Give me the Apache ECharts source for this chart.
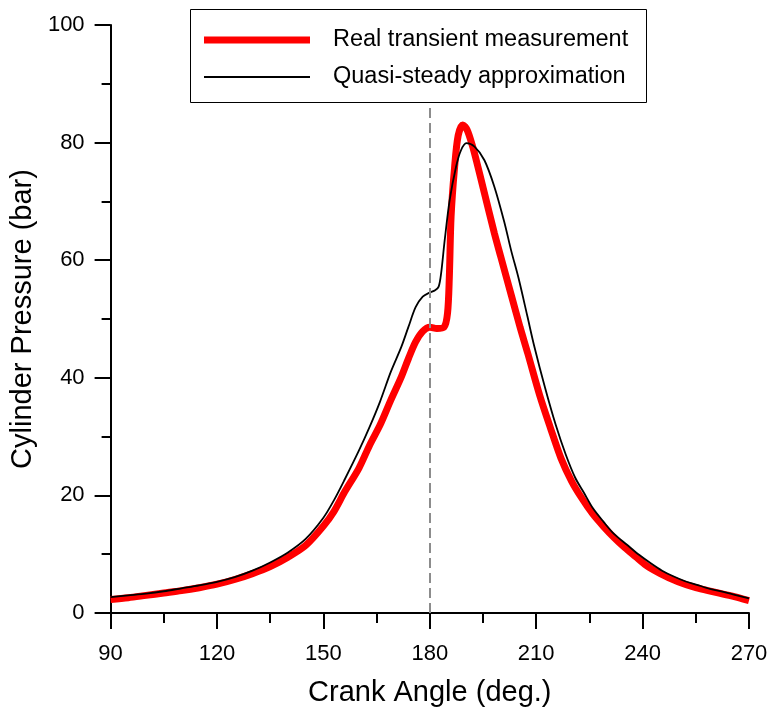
<!DOCTYPE html>
<html>
<head>
<meta charset="utf-8">
<script src="https://cdn.jsdelivr.net/npm/echarts@6/dist/echarts.min.js"></script>
<style>
  html, body { margin: 0; padding: 0; background: #fff; }
  #main { width: 773px; height: 715px; }
</style>
</head>
<body>
<div id="main"></div>
<script>
// measured (red) curve
var realAngle = [90, 95, 100, 105, 110, 115, 120, 125, 130, 135, 140, 145, 150, 153, 156, 160, 163, 166, 169, 172, 174, 176, 178, 180, 182, 184, 185, 185.5, 186, 187, 188, 189.3, 190.5, 192, 193.1, 195.4, 198.2, 200, 203, 205.5, 207.6, 211, 214, 217, 220, 223, 226, 229, 232, 235, 238, 241, 245, 250, 255, 260, 265, 270];
var realPressure = [2.3, 2.6, 3.0, 3.4, 3.8, 4.3, 4.9, 5.7, 6.7, 7.9, 9.5, 11.5, 14.8, 17.3, 20.6, 24.6, 28.5, 32.0, 36.2, 40.2, 43.3, 46.1, 47.9, 48.6, 48.4, 48.6, 51.0, 57.0, 67.4, 75.9, 81.2, 83.0, 82.2, 79.5, 77.0, 71.4, 64.6, 60.6, 54.0, 48.5, 44.2, 37.0, 31.5, 26.3, 22.4, 19.4, 16.8, 14.7, 12.8, 11.1, 9.6, 8.1, 6.7, 5.3, 4.3, 3.6, 2.9, 2.1];

// quasi-steady (black) curve
var quasiAngle = [90, 95, 100, 105, 110, 115, 120, 125, 130, 135, 140, 145, 150, 153, 156, 160, 163, 166, 169, 172, 174, 176, 178, 180, 181.5, 182.5, 183.2, 184.2, 185.6, 187.4, 188.8, 190.3, 192.6, 195.4, 198.2, 201, 203, 205, 207.5, 209.4, 212.5, 215.5, 218.3, 221, 223.5, 226, 229, 232, 235.6, 239, 242.2, 245.5, 248.8, 252, 255.3, 259, 262.8, 266, 270];
var quasiPressure = [2.7, 3.0, 3.3, 3.7, 4.2, 4.7, 5.3, 6.1, 7.2, 8.6, 10.3, 12.6, 16.2, 19.2, 22.7, 27.6, 31.6, 36.0, 41.0, 45.3, 48.7, 52.0, 53.8, 54.5, 54.9, 55.5, 57.8, 63.4, 70.2, 75.9, 78.7, 79.9, 79.3, 77.0, 72.5, 66.5, 61.5, 57.0, 50.5, 45.5, 38.3, 32.0, 27.0, 23.0, 20.4, 17.8, 15.5, 13.4, 11.6, 9.9, 8.5, 7.2, 6.2, 5.4, 4.8, 4.1, 3.6, 3.1, 2.5];

var xTicks = [90, 120, 150, 180, 210, 240, 270];
var yTicks = [0, 20, 40, 60, 80, 100];
var markAngle = 180;
var seriesNames = ['Real transient measurement', 'Quasi-steady approximation'];

function zip(a, b) {
    var out = [];
    for (var i = 0; i < a.length; i++) out.push([a[i], b[i]]);
    return out;
}

var myChart = echarts.init(document.getElementById('main'));
var font = 'Liberation Sans, Arial, sans-serif';

// one legend per entry so each sample keeps its own thickness
function legendRow(name, top, thick) {
    return {
        show: true,
        orient: 'vertical',
        left: 204,
        top: top,
        padding: 0,
        z: 100,
        icon: 'rect',
        itemWidth: 106,
        itemHeight: thick,
        textStyle: { fontFamily: font, fontSize: 23.5, color: '#000', padding: [0, 0, 0, 18] },
        data: [name]
    };
}

var option = {
    animation: false,
    backgroundColor: '#fff',
    grid: { left: 108, right: 24, top: 25, bottom: 102 },
    graphic: [{
        type: 'rect',
        z: 50,
        shape: { x: 190.5, y: 9.5, width: 456, height: 93 },
        style: { fill: '#fff', stroke: '#000', lineWidth: 1 }
    }],
    legend: [
        legendRow(seriesNames[0], 28, 7),
        legendRow(seriesNames[1], 65, 2)
    ],
    xAxis: {
        type: 'value',
        min: xTicks[0],
        max: xTicks[xTicks.length - 1],
        interval: 30,
        name: 'Crank Angle (deg.)',
        nameLocation: 'middle',
        nameGap: 65,
        nameTextStyle: { fontFamily: font, fontSize: 29, color: '#000' },
        axisLine: { onZero: false, lineStyle: { color: '#000', width: 2 } },
        axisTick: { length: 16, lineStyle: { color: '#000', width: 2 } },
        minorTick: { show: true, splitNumber: 2, length: 10, lineStyle: { color: '#000', width: 2 } },
        axisLabel: { margin: 30, fontFamily: font, fontSize: 22, color: '#000' },
        splitLine: { show: false }
    },
    yAxis: {
        type: 'value',
        min: yTicks[0],
        max: yTicks[yTicks.length - 1],
        interval: 20,
        name: 'Cylinder Pressure (bar)',
        nameLocation: 'middle',
        nameGap: 66,
        nameTextStyle: { fontFamily: font, fontSize: 29, color: '#000' },
        axisLine: { show: true, lineStyle: { color: '#000', width: 2 } },
        axisTick: { show: true, length: 16, lineStyle: { color: '#000', width: 2 } },
        minorTick: { show: true, splitNumber: 2, length: 9, lineStyle: { color: '#000', width: 2 } },
        axisLabel: { margin: 26, fontFamily: font, fontSize: 22, color: '#000' },
        splitLine: { show: false }
    },
    series: [
        {
            name: seriesNames[0],
            type: 'line',
            showSymbol: false,
            symbol: 'none',
            smooth: 0.3,
            lineStyle: { color: '#ff0000', width: 7 },
            itemStyle: { color: '#ff0000' },
            data: zip(realAngle, realPressure),
            markLine: {
                silent: true,
                symbol: 'none',
                label: { show: false },
                lineStyle: { color: '#8c8c8c', width: 2, type: [10, 5] },
                data: [{ xAxis: markAngle }]
            }
        },
        {
            name: seriesNames[1],
            type: 'line',
            showSymbol: false,
            symbol: 'none',
            smooth: 0.3,
            lineStyle: { color: '#000', width: 1.8 },
            itemStyle: { color: '#000' },
            data: zip(quasiAngle, quasiPressure)
        }
    ]
};
myChart.setOption(option);
</script>
</body>
</html>
